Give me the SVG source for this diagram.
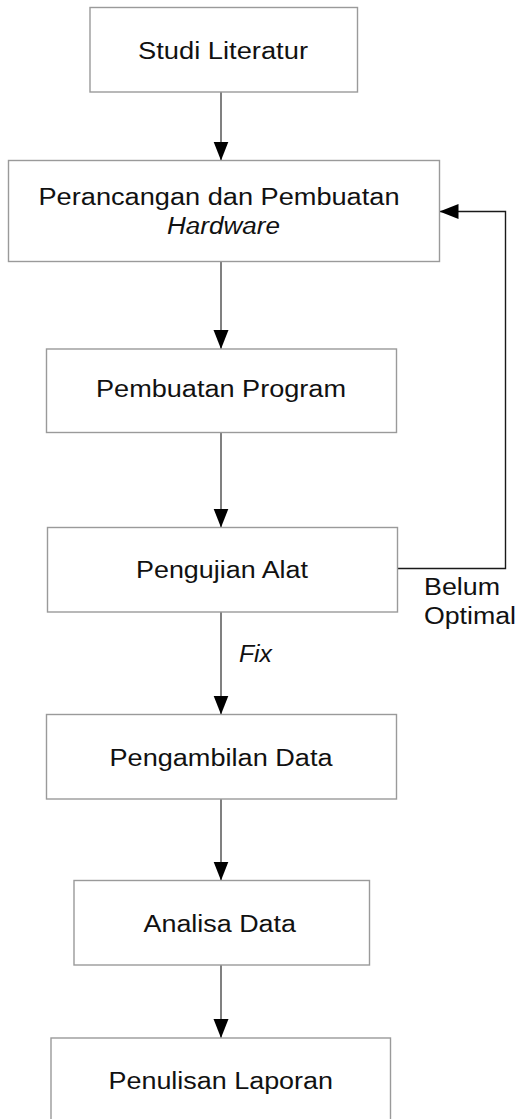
<svg xmlns="http://www.w3.org/2000/svg" width="518" height="1119" viewBox="0 0 518 1119">
  <style>
    .box { fill: #ffffff; stroke: #9a9a9a; stroke-width: 1.4; }
    .lbl { font-family: "Liberation Sans", Arial, sans-serif; font-size: 23.5px; fill: #111111; }
    .it { font-style: italic; }
    .link { fill: none; stroke: #4a4a4a; stroke-width: 1.4; }
    .loop { fill: none; stroke: #1a1a1a; stroke-width: 1.4; }
  </style>
  <defs>
    <marker id="head" markerUnits="userSpaceOnUse" markerWidth="20" markerHeight="16" refX="19" refY="8" orient="auto">
      <path d="M0,0.5 L19,8 L0,15.5 Z" fill="#000000"/>
    </marker>
  </defs>
  <rect width="518" height="1119" fill="#ffffff"/>

  <!-- connectors -->
  <g id="connectors">
    <line class="link" x1="221" y1="92" x2="221" y2="160.5" marker-end="url(#head)"/>
    <line class="link" x1="221" y1="261.5" x2="221" y2="349" marker-end="url(#head)"/>
    <line class="link" x1="221" y1="432.5" x2="221" y2="527.5" marker-end="url(#head)"/>
    <line class="link" x1="221" y1="612" x2="221" y2="714.5" marker-end="url(#head)"/>
    <line class="link" x1="221" y1="799" x2="221" y2="880.5" marker-end="url(#head)"/>
    <line class="link" x1="221" y1="965" x2="221" y2="1038" marker-end="url(#head)"/>
    <polyline class="loop" points="398,568.5 505.5,568.5 505.5,211.5 439.5,211.5" marker-end="url(#head)"/>
    <text class="lbl" x="424" y="595" textLength="76" lengthAdjust="spacingAndGlyphs">Belum</text>
    <text class="lbl" x="424" y="623.5" textLength="92" lengthAdjust="spacingAndGlyphs">Optimal</text>
    <text class="lbl it" x="239" y="661.5" textLength="33" lengthAdjust="spacingAndGlyphs">Fix</text>
  </g>

  <!-- process steps -->
  <g id="studi-literatur">
    <rect class="box" x="90" y="7.5" width="267.5" height="84.5"/>
    <text class="lbl" x="138" y="59" textLength="170" lengthAdjust="spacingAndGlyphs">Studi Literatur</text>
  </g>
  <g id="perancangan-hardware">
    <rect class="box" x="8.5" y="160.5" width="431" height="101"/>
    <text class="lbl" x="38.5" y="205" textLength="361" lengthAdjust="spacingAndGlyphs">Perancangan dan Pembuatan</text>
    <text class="lbl it" x="167" y="233.5" textLength="113" lengthAdjust="spacingAndGlyphs">Hardware</text>
  </g>
  <g id="pembuatan-program">
    <rect class="box" x="46.5" y="349" width="350" height="83.5"/>
    <text class="lbl" x="96" y="397" textLength="250" lengthAdjust="spacingAndGlyphs">Pembuatan Program</text>
  </g>
  <g id="pengujian-alat">
    <rect class="box" x="47.5" y="527.5" width="350" height="84.5"/>
    <text class="lbl" x="136" y="578" textLength="172" lengthAdjust="spacingAndGlyphs">Pengujian Alat</text>
  </g>
  <g id="pengambilan-data">
    <rect class="box" x="46.5" y="714.5" width="350" height="84.5"/>
    <text class="lbl" x="109.5" y="766" textLength="223" lengthAdjust="spacingAndGlyphs">Pengambilan Data</text>
  </g>
  <g id="analisa-data">
    <rect class="box" x="74" y="880.5" width="295.5" height="84.5"/>
    <text class="lbl" x="143.5" y="931.5" textLength="152.5" lengthAdjust="spacingAndGlyphs">Analisa Data</text>
  </g>
  <g id="penulisan-laporan">
    <rect class="box" x="51" y="1038" width="339.5" height="90"/>
    <text class="lbl" x="108.5" y="1088.5" textLength="224.5" lengthAdjust="spacingAndGlyphs">Penulisan Laporan</text>
  </g>
</svg>
